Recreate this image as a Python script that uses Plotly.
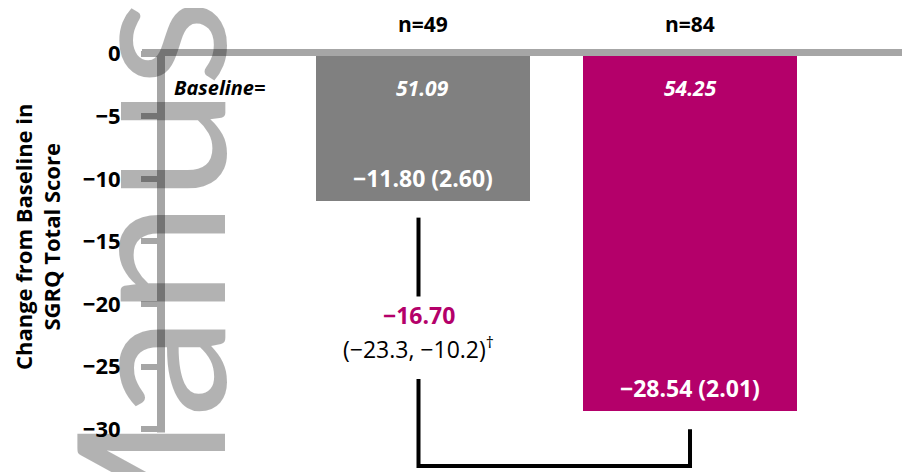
import plotly.graph_objects as go

# ---- data ----
groups = ["n=49", "n=84"]
changes = [-11.80, -28.54]
se = [2.60, 2.01]
baselines = [51.09, 54.25]
bar_colors = ["#808080", "#B4006A"]
diff_value = -16.70
diff_ci = (-23.3, -10.2)
tick_values = [0, -5, -10, -15, -20, -25, -30]

FONT = "Open Sans"
WM_FONT = "Lato"
AXIS_GRAY = "#a6a6a6"
MAGENTA = "#B4006A"


def fmt(v, nd=2):
    s = f"{abs(v):.{nd}f}"
    return ("\u2212" + s) if v < 0 else s


xpos = list(range(len(groups)))

fig = go.Figure()
fig.add_trace(go.Bar(
    x=xpos, y=changes, width=0.8,
    marker=dict(color=bar_colors, line=dict(width=0)),
    hoverinfo="skip", showlegend=False,
))

ann = []
for i, g in enumerate(groups):
    # n labels above the zero line
    ann.append(dict(x=i, y=0, xref="x", yref="y", text=f"<b>{g}</b>",
                    showarrow=False, yshift=30,
                    font=dict(family=FONT, size=21, color="black")))
    # baseline values
    ann.append(dict(x=i, y=0, xref="x", yref="y", text=f"<b><i>{baselines[i]:.2f}</i></b>",
                    showarrow=False, yshift=-34,
                    font=dict(family=FONT, size=21, color="white")))
    # change (SE) labels inside bar ends
    ann.append(dict(x=i, y=changes[i], xref="x", yref="y",
                    text=f"<b>{fmt(changes[i])} ({se[i]:.2f})</b>",
                    showarrow=False, yshift=23,
                    font=dict(family=FONT, size=23, color="white")))

ann.append(dict(x=-0.76, y=0, xref="x", yref="y", text="<b><i>Baseline=</i></b>",
                showarrow=False, yshift=-34,
                font=dict(family=FONT, size=20, color="black")))

# difference and CI
ann.append(dict(x=-0.015, y=-20.9, xref="x", yref="y", text=f"<b>{fmt(diff_value)}</b>",
                showarrow=False, font=dict(family=FONT, size=23, color=MAGENTA)))
ann.append(dict(x=-0.015, y=-23.5, xref="x", yref="y",
                text=f"({fmt(diff_ci[0], 1)}, {fmt(diff_ci[1], 1)})<sup>\u2020</sup>",
                showarrow=False, font=dict(family=FONT, size=23, color="black")))

# y-axis title
ann.append(dict(x=-0.165, y=0.555, xref="paper", yref="paper",
                text="<b>Change from Baseline in<br>SGRQ Total Score</b>",
                textangle=-90, showarrow=False, xanchor="center", yanchor="middle",
                font=dict(family=FONT, size=22, color="black")))

# watermark
ann.append(dict(x=-0.02, y=-0.32, xref="paper", yref="paper", text="Manuscript",
                textangle=-90, showarrow=False, xanchor="center", yanchor="bottom",
                font=dict(family=WM_FONT, size=205, color="rgba(0,0,0,0.3)")))

shapes = [
    # zero line
    dict(type="line", xref="paper", yref="y", x0=-0.0254, x1=1, y0=0.1, y1=0.1,
         line=dict(color=AXIS_GRAY, width=7), layer="above"),
    # y-axis line
    dict(type="line", xref="paper", yref="y", x0=0, x1=0, y0=0, y1=-30.27,
         line=dict(color=AXIS_GRAY, width=8), layer="above"),
    # bracket
    dict(type="line", xref="x", yref="y", x0=-0.015, x1=-0.015, y0=-13.1, y1=-19.4,
         line=dict(color="black", width=4)),
    dict(type="path", xref="x", yref="y",
         path="M -0.015,-26.0 L -0.015,-32.95 L 1,-32.95 L 1,-30.0",
         line=dict(color="black", width=4)),
]

fig.update_layout(
    width=910, height=472,
    margin=dict(l=153, r=8, t=40, b=8, pad=0),
    paper_bgcolor="white", plot_bgcolor="white",
    bargap=0,
    annotations=ann, shapes=shapes,
    xaxis=dict(range=[-0.9776, 1.8224], visible=False, showgrid=False, zeroline=False),
    yaxis=dict(range=[-33.42, 0.45], showgrid=False, zeroline=False, showline=False,
               tickmode="array", tickvals=tick_values,
               ticktext=[fmt(v, 0) if v != 0 else "0" for v in tick_values],
               ticks="outside", ticklen=19, tickwidth=6, tickcolor=AXIS_GRAY,
               ticklabelstandoff=16,
               tickfont=dict(family=FONT, size=22, color="black", weight="bold")),
)

fig.write_html("out.html")
